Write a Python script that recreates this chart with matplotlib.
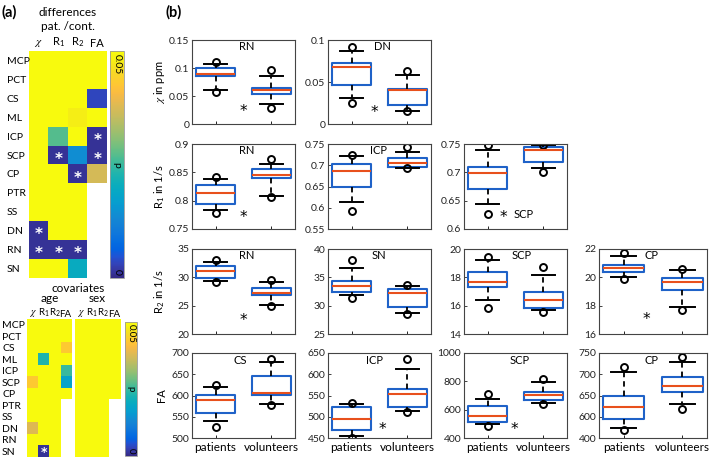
import numpy as np
import matplotlib
matplotlib.use('Agg')
import matplotlib.pyplot as plt
from matplotlib.colors import LinearSegmentedColormap
from matplotlib.ticker import FuncFormatter

plt.rcParams['font.family'] = ['Lato', 'DejaVu Sans']
plt.rcParams['mathtext.fontset'] = 'stix'

# ---------------- data: panel (a) ----------------
regions = ['MCP', 'PCT', 'CS', 'ML', 'ICP', 'SCP', 'CP', 'PTR', 'SS', 'DN', 'RN', 'SN']
measures = [r'$\chi$', r'R$_\mathregular{1}$', r'R$_\mathregular{2}$', 'FA']
nan = np.nan
diff_p = [
    [0.05, 0.05, 0.05, 0.05],
    [0.05, 0.05, 0.05, 0.05],
    [0.05, 0.05, 0.05, 0.0035],
    [0.05, 0.05, 0.048, 0.05],
    [0.05, 0.027, 0.05, 0.001],
    [0.05, 0.001, 0.014, 0.001],
    [0.05, 0.05, 0.001, 0.037],
    [0.05, 0.05, 0.05, nan],
    [0.05, 0.05, 0.05, nan],
    [0.001, 0.05, 0.05, nan],
    [0.001, 0.001, 0.001, nan],
    [0.05, 0.05, 0.020, nan],
]
age_p = [
    [0.05, 0.05, 0.05, 0.05],
    [0.05, 0.05, 0.05, 0.05],
    [0.05, 0.05, 0.05, 0.043],
    [0.05, 0.023, 0.05, 0.05],
    [0.05, 0.05, 0.05, 0.025],
    [0.043, 0.05, 0.05, 0.018],
    [0.05, 0.05, 0.05, 0.05],
    [0.05, 0.05, 0.05, nan],
    [0.05, 0.05, 0.05, nan],
    [0.038, 0.05, 0.05, nan],
    [0.05, 0.05, 0.05, nan],
    [0.05, 0.001, 0.05, nan],
]
sex_p = [
    [0.05, 0.05, 0.05, 0.05],
    [0.05, 0.05, 0.05, 0.05],
    [0.05, 0.05, 0.05, 0.05],
    [0.05, 0.05, 0.05, 0.05],
    [0.05, 0.05, 0.05, 0.05],
    [0.05, 0.05, 0.05, 0.05],
    [0.05, 0.05, 0.05, 0.05],
    [0.05, 0.05, 0.05, nan],
    [0.05, 0.05, 0.05, nan],
    [0.05, 0.05, 0.05, nan],
    [0.05, 0.05, 0.05, nan],
    [0.05, 0.05, 0.05, nan],
]
sig_threshold = 0.002

# ---------------- data: panel (b) ----------------
groups = ['patients', 'volunteers']
panel_titles = ['RN', 'DN', 'RN', 'ICP', 'SCP', 'RN', 'SN', 'SCP', 'CP', 'CS', 'ICP', 'SCP', 'CP']
row_labels = [r'$\chi$ in ppm', r'R$_\mathregular{1}$ in 1/s', r'R$_\mathregular{2}$ in 1/s', 'FA']

pat_lo  = [0.061, 0.031, 0.784, 0.613, 0.644, 29.4, 31.8, 16.4, 20.0, 541, 454, 496, 573]
pat_q1  = [0.086, 0.046, 0.794, 0.649, 0.670, 29.8, 32.5, 17.3, 20.35, 559, 468, 513, 595]
pat_med = [0.089, 0.068, 0.814, 0.687, 0.699, 31.1, 33.4, 17.7, 20.65, 589, 494, 553, 624]
pat_q3  = [0.100, 0.073, 0.828, 0.704, 0.709, 32.0, 34.4, 18.4, 20.9, 601, 524, 626, 650]
pat_hi  = [0.108, 0.087, 0.838, 0.722, 0.740, 32.75, 36.6, 19.2, 21.5, 620, 530, 678, 705]
pat_out_lo = [0.057, 0.025, 0.779, 0.593, 0.626, 29.2, 31.4, 15.85, 19.9, 527, 451, 482, 569]
pat_out_hi = [0.111, 0.092, 0.842, 0.724, 0.749, 33.0, 38.1, 19.45, 21.7, 625, 533, 711, 716]

vol_lo  = [0.035, 0.016, 0.808, 0.693, 0.707, 25.1, 28.7, 15.7, 17.9, 581, 513, 647, 630]
vol_q1  = [0.054, 0.023, 0.840, 0.695, 0.718, 26.8, 29.7, 15.8, 19.1, 602, 524, 668, 658]
vol_med = [0.060, 0.040, 0.846, 0.706, 0.740, 27.2, 32.3, 16.4, 19.7, 605, 554, 701, 672]
vol_q3  = [0.065, 0.042, 0.856, 0.716, 0.745, 28.2, 32.9, 17.0, 19.95, 645, 565, 727, 693]
vol_hi  = [0.086, 0.058, 0.865, 0.732, 0.748, 29.1, 33.5, 18.2, 20.5, 679, 612, 793, 728]
vol_out_lo = [0.029, 0.016, 0.806, 0.693, 0.701, 25.0, 28.5, 15.55, 17.7, 578, 511, 640, 618]
vol_out_hi = [0.096, 0.063, 0.874, 0.743, 0.749, 29.6, 33.7, 18.7, 20.6, 686, 637, 816, 740]

ylims = [(0, 0.15), (0, 0.1), (0.75, 0.9), (0.55, 0.75), (0.6, 0.75), (20, 35), (25, 40),
         (14, 20), (16, 22), (500, 700), (450, 650), (400, 1000), (550, 750)]
yticks = [[0, 0.05, 0.1, 0.15], [0, 0.05, 0.1], [0.75, 0.8, 0.85, 0.9],
          [0.55, 0.6, 0.65, 0.7, 0.75], [0.6, 0.65, 0.7, 0.75], [20, 25, 30, 35],
          [25, 30, 35, 40], [14, 16, 18, 20], [16, 18, 20, 22], [500, 550, 600, 650, 700],
          [450, 500, 550, 600, 650], [400, 600, 800, 1000], [550, 600, 650, 700, 750]]
yticklabels_cp_fa = ['400', '600', '650', '700', '750']

# significance stars (x, y in data units); None = no star
stars = [(1.5, 0.022), (1.41, 0.014), (1.5, 0.771), None, (1.28, 0.621), (1.5, 22.4), None,
         None, (1.39, 16.99), None, (1.56, 471), (1.48, 463), None]

# ---------------- layout ----------------
W, H = 709, 458
fig = plt.figure(figsize=(W / 100, H / 100), dpi=100)

def px_axes(l, t, r, b):
    return fig.add_axes([l / W, 1 - b / H, (r - l) / W, (b - t) / H])

parula_colors = [
    (0.2081, 0.1663, 0.5292), (0.2123, 0.2138, 0.6270), (0.1959, 0.2645, 0.7279),
    (0.1253, 0.3242, 0.8303), (0.0117, 0.3875, 0.8820), (0.0165, 0.4266, 0.8786),
    (0.0498, 0.4586, 0.8641), (0.0723, 0.4887, 0.8467), (0.0793, 0.5200, 0.8312),
    (0.0641, 0.5570, 0.8240), (0.0343, 0.5966, 0.8199), (0.0239, 0.6287, 0.8038),
    (0.0228, 0.6535, 0.7768), (0.0384, 0.6743, 0.7436), (0.0843, 0.6928, 0.7062),
    (0.1453, 0.7098, 0.6646), (0.2178, 0.7250, 0.6193), (0.3022, 0.7376, 0.5712),
    (0.3953, 0.7459, 0.5244), (0.4871, 0.7491, 0.4840), (0.5709, 0.7485, 0.4494),
    (0.6473, 0.7456, 0.4188), (0.7184, 0.7411, 0.3905), (0.7858, 0.7356, 0.3633),
    (0.8507, 0.7299, 0.3360), (0.9139, 0.7258, 0.3063), (0.9739, 0.7314, 0.2666),
    (0.9990, 0.7653, 0.2164), (0.9880, 0.8066, 0.1794), (0.9697, 0.8481, 0.1475),
    (0.9589, 0.8949, 0.1132), (0.9661, 0.9514, 0.0755), (0.9763, 0.9831, 0.0538)]
parula = LinearSegmentedColormap.from_list('parula', parula_colors, N=256)
parula.set_bad('white')


def heatmap(ax, data, row_fs, col_fs, show_rows, lab_pad, col_pad, star_fs, star_dy):
    arr = np.ma.masked_invalid(np.array(data, dtype=float))
    im = ax.imshow(arr, cmap=parula, vmin=0, vmax=0.05, aspect='auto', interpolation='nearest')
    for s in ax.spines.values():
        s.set_visible(False)
    ax.xaxis.tick_top()
    ax.set_xticks(range(len(measures)))
    ax.set_xticklabels(measures, fontsize=col_fs)
    ax.tick_params(axis='x', length=0, pad=col_pad)
    ax.set_yticks(range(len(regions)))
    if show_rows:
        ax.set_yticklabels(regions, fontsize=row_fs)
        for t in ax.get_yticklabels():
            t.set_horizontalalignment('left')
        ax.tick_params(axis='y', length=0, pad=lab_pad)
    else:
        ax.set_yticklabels([])
        ax.tick_params(axis='y', length=0)
    arr2 = np.array(data, dtype=float)
    for i in range(arr2.shape[0]):
        for j in range(arr2.shape[1]):
            if np.isfinite(arr2[i, j]) and arr2[i, j] < sig_threshold:
                ax.text(j, i + star_dy, '*', color='white', ha='center', va='center',
                        fontsize=star_fs, fontweight='bold', family='DejaVu Sans')
    return im


def colorbar(cax, im, fs):
    cb = fig.colorbar(im, cax=cax)
    cb.set_ticks([])
    cb.outline.set_edgecolor('#999999')
    cb.outline.set_linewidth(0.6)
    cax.text(0.5, 0.985, '0.05', rotation=-90, ha='center', va='top', transform=cax.transAxes, fontsize=fs)
    cax.text(0.5, 0.5, 'p', rotation=-90, ha='center', va='center', transform=cax.transAxes, fontsize=fs)
    cax.text(0.5, 0.015, '0', rotation=-90, ha='center', va='bottom', transform=cax.transAxes, fontsize=fs)


# top heatmap
ax_d = px_axes(29, 51, 107, 278)
im = heatmap(ax_d, diff_p, 7.5, 8, True, 16, 1.5, 11, 0.22)
cax = px_axes(110, 51, 124, 278)
colorbar(cax, im, 7.5)
fig.text(2 / W, 1 - 12 / H, '(a)', fontsize=10.5, fontweight='bold', va='center', ha='left')
fig.text(68 / W, 1 - 12 / H, 'differences', fontsize=8.5, va='center', ha='center')
fig.text(68 / W, 1 - 27 / H, 'pat. /cont.', fontsize=8.5, va='center', ha='center')

# bottom heatmaps
ax_age = px_axes(27, 319, 71, 457)
heatmap(ax_age, age_p, 7.5, 7, True, 18, 0.3, 9, 0.12)
ax_sex = px_axes(75, 319, 120, 457)
im2 = heatmap(ax_sex, sex_p, 7.5, 7, False, 0, 0.3, 9, 0.12)
cax2 = px_axes(125, 322, 137, 456)
colorbar(cax2, im2, 7)
fig.text(78 / W, 1 - 288 / H, 'covariates', fontsize=8.5, va='center', ha='center')
fig.text(50 / W, 1 - 299 / H, 'age', fontsize=8.5, va='center', ha='center')
fig.text(97 / W, 1 - 299 / H, 'sex', fontsize=8.5, va='center', ha='center')

# ---------------- panel (b) boxplots ----------------
fig.text(166 / W, 1 - 12 / H, '(b)', fontsize=10.5, fontweight='bold', va='center', ha='left')
cols_px = [(192, 295), (328, 431), (464, 567), (599, 707)]
rows_px = [(40, 124), (144, 229), (249, 334), (353, 438)]
grid = [(0, 0), (0, 1), (1, 0), (1, 1), (1, 2), (2, 0), (2, 1), (2, 2), (2, 3),
        (3, 0), (3, 1), (3, 2), (3, 3)]
title_pos = [(0.53, 0.92), (0.53, 0.92), (0.53, 0.92), (0.49, 0.92), (0.58, 0.17),
             (0.53, 0.92), (0.49, 0.92), (0.56, 0.92), (0.49, 0.92), (0.47, 0.91),
             (0.455, 0.91), (0.54, 0.91), (0.49, 0.91)]

box_c = '#1f62c8'
med_c = '#e8501c'
fmt = FuncFormatter(lambda v, p: '%g' % v)

for k, (r, c) in enumerate(grid):
    l, rr = cols_px[c]
    t, b = rows_px[r]
    ax = px_axes(l, t, rr, b)
    stats = [
        dict(med=pat_med[k], q1=pat_q1[k], q3=pat_q3[k], whislo=pat_lo[k], whishi=pat_hi[k],
             fliers=[pat_out_lo[k], pat_out_hi[k]]),
        dict(med=vol_med[k], q1=vol_q1[k], q3=vol_q3[k], whislo=vol_lo[k], whishi=vol_hi[k],
             fliers=[vol_out_lo[k], vol_out_hi[k]]),
    ]
    ax.bxp(stats, positions=[1, 2], widths=0.7, capwidths=0.42,
           boxprops=dict(color=box_c, linewidth=1.5),
           medianprops=dict(color=med_c, linewidth=1.5),
           whiskerprops=dict(color='black', linewidth=1.3, linestyle=(0, (3, 2.2))),
           capprops=dict(color='black', linewidth=1.4),
           flierprops=dict(marker='o', markerfacecolor='none', markeredgecolor='black',
                           markersize=5, markeredgewidth=1.4))
    ax.set_xlim(0.58, 2.42)
    ax.set_ylim(*ylims[k])
    ax.set_yticks(yticks[k])
    if k == 12:
        ax.set_yticklabels(yticklabels_cp_fa)
    else:
        ax.yaxis.set_major_formatter(fmt)
    ax.tick_params(axis='y', direction='in', length=2.5, width=0.6, labelsize=7.5, pad=2,
                   colors='#222222')
    ax.tick_params(axis='x', direction='in', length=2.5, width=0.6)
    ax.set_xticks([1, 2])
    if r == 3:
        ax.set_xticklabels(groups, fontsize=8.5)
        ax.tick_params(axis='x', pad=3)
    else:
        ax.set_xticklabels([])
    for s in ax.spines.values():
        s.set_color('#444444')
        s.set_linewidth(0.8)
    tx, ty = title_pos[k]
    ax.text(tx, ty, panel_titles[k], transform=ax.transAxes, ha='center', va='center', fontsize=8)
    if stars[k] is not None:
        ax.text(stars[k][0], stars[k][1], '*', ha='center', va='center', fontsize=11,
                family='DejaVu Sans')
    if c == 0:
        ax.set_ylabel(row_labels[r], fontsize=8)
        ax.yaxis.set_label_coords(-0.245, 0.5)

fig.savefig('out.png', dpi=100)
